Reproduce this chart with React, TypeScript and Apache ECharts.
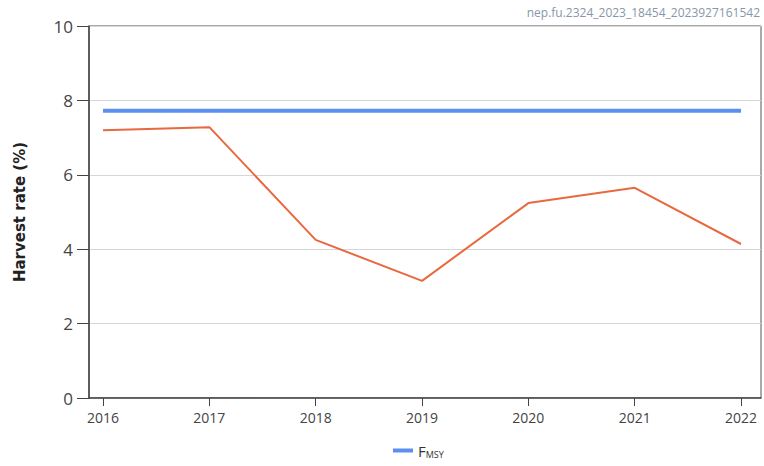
import React, { useEffect, useRef } from "react";
import * as echarts from "echarts";

const years = [2016, 2017, 2018, 2019, 2020, 2021, 2022];
const harvestRate = [7.2, 7.28, 4.25, 3.15, 5.24, 5.65, 4.14];
const fmsy = [7.72, 7.72, 7.72, 7.72, 7.72, 7.72, 7.72];
const yTicks = [0, 2, 4, 6, 8, 10];
const watermark = "nep.fu.2324_2023_18454_2023927161542";

export default function App() {
  const ref = useRef<HTMLDivElement>(null);
  useEffect(() => {
    if (!ref.current) return;
    const chart = echarts.init(ref.current, undefined, { renderer: "svg" });
    chart.setOption({
      animation: false,
      backgroundColor: "#ffffff",
      textStyle: { fontFamily: "Open Sans" },
      grid: {
        left: 89,
        right: 3,
        top: 26,
        bottom: 68,
        show: true,
        borderColor: "#555",
        borderWidth: 1,
      },
      graphic: [
        {
          type: "text",
          right: 4,
          top: 6,
          style: {
            text: watermark,
            fill: "#8797aa",
            fontSize: 12,
            fontFamily: "Open Sans",
          },
        },
      ],
      legend: {
        bottom: 2,
        left: 388,
        data: [{ name: "FMSY" }],
        itemWidth: 20,
        itemHeight: 4,
        itemGap: 6,
        icon: "rect",
        formatter: () => "{a|F}{b|MSY}",
        textStyle: {
          rich: {
            a: { fontSize: 15, color: "#333", fontFamily: "Open Sans" },
            b: { fontSize: 9, color: "#333", fontFamily: "Open Sans", verticalAlign: "bottom", padding: [8, 0, 0, 0] },
          },
        },
      },
      xAxis: {
        type: "value",
        min: 2015.868,
        max: 2022.188,
        axisLine: { show: true, lineStyle: { color: "#444", width: 1.5 } },
        axisTick: { show: true, customValues: years, length: 8, lineStyle: { color: "#444" } },
        axisLabel: {
          customValues: years,
          color: "#444",
          fontSize: 14,
          margin: 12,
          formatter: (v: number) => String(v),
        },
        splitLine: { show: false },
      },
      yAxis: {
        type: "value",
        min: 0,
        max: 10,
        interval: 2,
        name: "Harvest rate (%)",
        nameLocation: "middle",
        nameGap: 62,
        nameTextStyle: { fontFamily: "DejaVu Sans", fontWeight: "bold", fontSize: 15, color: "#222" },
        axisLine: { show: true, lineStyle: { color: "#444", width: 1.5 } },
        axisTick: { show: true, length: 12, lineStyle: { color: "#444" } },
        axisLabel: {
          color: "#444",
          fontSize: 17,
          margin: 16,
          customValues: yTicks,
        },
        splitLine: { show: true, lineStyle: { color: "#d6d6d6", width: 1 } },
      },
      series: [
        {
          name: "FMSY",
          type: "line",
          data: years.map((y, i) => [y, fmsy[i]]),
          showSymbol: false,
          lineStyle: { color: "#5b8ff0", width: 4 },
          itemStyle: { color: "#5b8ff0" },
        },
        {
          name: "Harvest rate",
          type: "line",
          data: years.map((y, i) => [y, harvestRate[i]]),
          showSymbol: false,
          lineStyle: { color: "#e8693f", width: 2 },
          itemStyle: { color: "#e8693f" },
        },
      ],
    });
    return () => chart.dispose();
  }, []);
  return <div ref={ref} style={{ width: 764, height: 466, position: "absolute", left: 0, top: 0 }} />;
}
